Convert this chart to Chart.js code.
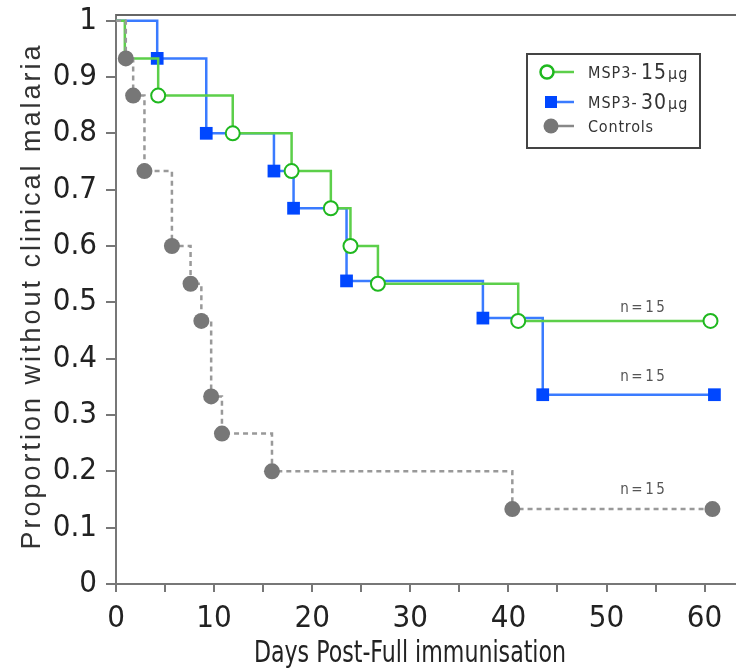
<!DOCTYPE html>
<html>
<head>
<meta charset="utf-8">
<title>Proportion without clinical malaria</title>
<script src="https://cdn.jsdelivr.net/npm/chart.js@4.4.1/dist/chart.umd.min.js"></script>
<style>
html,body{margin:0;padding:0;background:#fff}
#wrap{width:736px;height:668px}
</style>
</head>
<body>
<div id="wrap"><canvas id="kmChart" width="736" height="668"></canvas></div>
<script>

// Kaplan-Meier steps (day, proportion)
const greenDays = [0, 0.9, 4.3, 11.9, 17.9, 21.9, 23.9, 26.7, 41.0, 60.6]
const greenProp = [1, 0.933, 0.867, 0.8, 0.733, 0.667, 0.6, 0.533, 0.467, 0.467]

const blueDays = [0, 4.2, 9.2, 16.1, 18.1, 23.5, 37.4, 43.5, 61.0]
const blueProp = [1, 0.933, 0.8, 0.733, 0.667, 0.538, 0.472, 0.336, 0.336]

const ctrlDays = [0, 1.0, 1.75, 2.9, 5.7, 7.6, 8.7, 9.7, 10.8, 15.9, 40.4, 60.8]
const ctrlProp = [1, 0.933, 0.867, 0.733, 0.6, 0.533, 0.467, 0.333, 0.267, 0.2, 0.133, 0.133]

const seriesNames = ["MSP3- 15 µg", "MSP3- 30 µg", "Controls"]

// "n=15" notes at the end of each curve
const nText = ["n=15", "n=15", "n=15"]
const nDays = [53.8, 53.8, 53.8]
const nProp = [0.49, 0.367, 0.166]

const xTicks = [0, 10, 20, 30, 40, 50, 60]

const NARROW = '"Liberation Sans Narrow", "DejaVu Sans Condensed", "Liberation Sans", sans-serif'

function pts(days, prop){
  return days.map((d,i)=>({x:d, y:prop[i]}))
}

/* titles, frame line, legend box and n labels */
const extras = {
  id: "extras",
  afterDraw(chart){
    const c = chart.ctx
    const a = chart.chartArea
    const xs = chart.scales.x
    const ys = chart.scales.y

    c.save()

    c.strokeStyle = "#666"
    c.lineWidth = 2
    c.beginPath()
    c.moveTo(a.left, a.top)
    c.lineTo(a.right, a.top)
    c.stroke()

    // axis titles
    c.fillStyle = "#222"
    c.textAlign = "center"
    c.textBaseline = "alphabetic"
    c.save()
    c.translate(410, 662)
    c.scale(0.82, 1)
    c.font = "30px " + NARROW
    c.fillText("Days Post-Full immunisation", 0, 0)
    c.restore()

    c.save()
    c.translate(40, 296)
    c.rotate(-Math.PI/2)
    c.font = '27px "Liberation Sans", Arial, sans-serif'
    c.letterSpacing = "3px"
    c.fillStyle = "#333"
    c.fillText("Proportion without clinical malaria", 0, 0)
    c.restore()

    // n=15
    c.fillStyle = "#555"
    c.textBaseline = "middle"
    c.font = "15px " + NARROW
    c.letterSpacing = "2.5px"
    nText.forEach((t,i)=>{
      c.fillText(t, xs.getPixelForValue(nDays[i]), ys.getPixelForValue(nProp[i]))
    })
    c.letterSpacing = "0px"

    // legend
    c.strokeStyle = "#444"
    c.lineWidth = 2
    c.strokeRect(527, 54, 173, 94)

    c.lineWidth = 2.5
    c.strokeStyle = "#5ccf4a"
    c.beginPath(); c.moveTo(547,72); c.lineTo(574,72); c.stroke()
    c.strokeStyle = "#1fb81f"
    c.fillStyle = "#fff"
    c.beginPath(); c.arc(547,72,6.5,0,Math.PI*2); c.fill(); c.stroke()

    c.strokeStyle = "#3a7bff"
    c.beginPath(); c.moveTo(551,102); c.lineTo(574,102); c.stroke()
    c.fillStyle = "#0047ff"
    c.fillRect(545,96,12,12)

    c.strokeStyle = "#888"
    c.beginPath(); c.moveTo(551,126); c.lineTo(574,126); c.stroke()
    c.fillStyle = "#777"
    c.beginPath(); c.arc(551,126,7.5,0,Math.PI*2); c.fill()

    c.fillStyle = "#333"
    c.textAlign = "left"
    c.textBaseline = "alphabetic"
    const rows = [[72,"15"],[102,"30"]]
    rows.forEach(r=>{
      const y = r[0] + 6
      c.letterSpacing = "1px"
      c.font = "16px " + NARROW
      c.fillText("MSP3-", 588, y)
      c.font = "21px " + NARROW
      c.fillText(r[1], 641, y + 1)
      c.font = "16px " + NARROW
      c.fillText("µg", 668, y + 1)
    })
    c.letterSpacing = "0.8px"
    c.font = "16px " + NARROW
    c.fillText(seriesNames[2], 588, 132)

    c.restore()
  }
}

new Chart(document.getElementById("kmChart"),{
  type:"line",
  data:{
    datasets:[
      {
        label: seriesNames[2],
        data: pts(ctrlDays, ctrlProp),
        stepped: true,
        borderColor: "#999",
        borderWidth: 2.5,
        borderDash: [5,4],
        pointStyle: "circle",
        pointRadius: c => c.dataIndex === 0 ? 0 : 8,
        pointBackgroundColor: "#777",
        pointBorderColor: "#777",
        pointBorderWidth: 0,
        order: 1
      },
      {
        label: seriesNames[0],
        data: pts(greenDays, greenProp),
        stepped: true,
        borderColor: "#5ccf4a",
        borderWidth: 2.5,
        pointStyle: "circle",
        pointRadius: c => c.dataIndex < 2 ? 0 : 7,
        pointBackgroundColor: "#fff",
        pointBorderColor: "#1fb81f",
        pointBorderWidth: 2,
        order: 2
      },
      {
        label: seriesNames[1],
        data: pts(blueDays, blueProp),
        stepped: true,
        borderColor: "#3a7bff",
        borderWidth: 2.5,
        pointStyle: "rect",
        pointRadius: c => c.dataIndex === 0 ? 0 : 9,
        pointBackgroundColor: "#0047ff",
        pointBorderColor: "#0047ff",
        pointBorderWidth: 0,
        order: 3
      }
    ]
  },
  options:{
    responsive:false,
    animation:false,
    layout:{autoPadding:false, padding:{top:15,right:0,bottom:0,left:0}},
    plugins:{
      legend:{display:false},
      tooltip:{enabled:false}
    },
    scales:{
      x:{
        type:"linear",
        min:0,
        max:63.2,
        afterFit: s => { s.height = 84; s.paddingLeft = 0; s.paddingRight = 0 },
        ticks:{
          stepSize:5,
          includeBounds:false,
          autoSkip:false,
          maxRotation:0,
          padding:8,
          color:"#222",
          font:{family:NARROW, size:31},
          callback: v => xTicks.includes(v) ? String(v) : ""
        },
        grid:{drawOnChartArea:false, tickLength:8, color:"#777", lineWidth:2},
        border:{color:"#777", width:2}
      },
      y:{
        min:0,
        max:1.01,
        afterFit: s => { s.width = 116; s.paddingTop = 0; s.paddingBottom = 0 },
        ticks:{
          stepSize:0.1,
          includeBounds:false,
          padding:9,
          color:"#222",
          font:{family:NARROW, size:31},
          callback: v => String(Math.round(v*10)/10)
        },
        grid:{drawOnChartArea:false, tickLength:10, color:"#777", lineWidth:2},
        border:{color:"#777", width:2}
      }
    }
  },
  plugins:[extras]
})

</script>
</body>
</html>
